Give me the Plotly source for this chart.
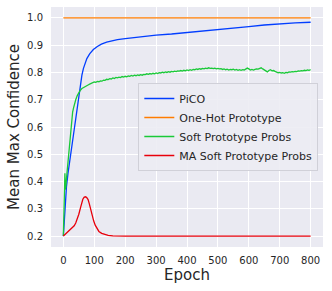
import plotly.graph_objects as go

# ---------------- data ----------------
pico_epoch = [0, 3, 6, 10, 15, 20, 25, 30, 35, 40, 45, 50, 55, 60, 65, 70, 76, 85, 97,
              110, 123, 140, 154, 175, 200, 250, 300, 350, 400, 450, 500, 550, 600,
              650, 700, 750, 800]
pico_vals = [0.200, 0.260, 0.320, 0.380, 0.430, 0.475, 0.515, 0.550, 0.590, 0.630,
             0.675, 0.715, 0.755, 0.790, 0.815, 0.834, 0.851, 0.868, 0.884,
             0.895, 0.904, 0.911, 0.915, 0.920, 0.924, 0.931, 0.937, 0.941, 0.946,
             0.951, 0.956, 0.962, 0.968, 0.974, 0.979, 0.982, 0.984]

onehot_epoch = [0, 800]
onehot_vals = [1.0, 1.0]

soft_epoch_early = [0, 2, 4, 5, 6, 8, 10, 13, 16, 18, 20, 22, 24, 26, 28, 30, 33, 36,
                    40, 45, 50, 55, 60, 65, 70, 75, 80, 85, 90]
soft_vals_early = [0.200, 0.270, 0.360, 0.430, 0.370, 0.380, 0.410, 0.450, 0.490,
                   0.510, 0.540, 0.560, 0.600, 0.630, 0.645, 0.655, 0.670, 0.685,
                   0.700, 0.715, 0.728, 0.735, 0.741, 0.745, 0.748, 0.751, 0.754,
                   0.757, 0.760]
soft_epoch_late = list(range(95, 801, 5))
soft_vals_late = [
    0.762, 0.765, 0.764, 0.767, 0.766, 0.769, 0.768, 0.772, 0.771, 0.775,
    0.774, 0.777, 0.776, 0.780, 0.778, 0.782, 0.780, 0.783, 0.781, 0.785,
    0.783, 0.786, 0.784, 0.787, 0.786, 0.789, 0.787, 0.790, 0.788, 0.791,
    0.789, 0.792, 0.790, 0.793, 0.792, 0.795, 0.793, 0.796, 0.794, 0.797,
    0.795, 0.798, 0.796, 0.799, 0.798, 0.801, 0.799, 0.802, 0.800, 0.803,
    0.801, 0.804, 0.802, 0.805, 0.803, 0.806, 0.805, 0.807, 0.805, 0.808,
    0.806, 0.809, 0.807, 0.810, 0.808, 0.811, 0.810, 0.813, 0.811, 0.814,
    0.812, 0.815, 0.813, 0.816, 0.814, 0.817, 0.815, 0.816, 0.814, 0.816,
    0.813, 0.815, 0.813, 0.814, 0.811, 0.813, 0.810, 0.812, 0.809, 0.811,
    0.810, 0.812, 0.809, 0.811, 0.808, 0.810, 0.808, 0.810, 0.809, 0.812,
    0.816, 0.813, 0.809, 0.811, 0.809, 0.811, 0.813, 0.812, 0.815, 0.817,
    0.813, 0.809, 0.803, 0.802, 0.807, 0.810, 0.806, 0.807, 0.804, 0.801,
    0.799, 0.800, 0.798, 0.799, 0.797, 0.800, 0.799, 0.802, 0.801, 0.803,
    0.802, 0.804, 0.803, 0.806, 0.805, 0.807, 0.806, 0.808, 0.807, 0.809,
    0.808, 0.810]
soft_epoch = soft_epoch_early + soft_epoch_late
soft_vals = soft_vals_early + soft_vals_late

ma_epoch = [0, 10, 19, 28, 35, 40, 45, 50, 56, 60, 63, 67, 71, 75, 80, 84, 87, 92,
            98, 103, 108, 115, 124, 135, 145, 160, 175, 200, 800]
ma_vals = [0.200, 0.210, 0.219, 0.228, 0.238, 0.248, 0.262, 0.280, 0.306, 0.325,
           0.335, 0.342, 0.344, 0.342, 0.334, 0.318, 0.302, 0.280, 0.256, 0.240,
           0.228, 0.217, 0.210, 0.205, 0.2025, 0.2005, 0.200, 0.200, 0.200]

series_names = ["PiCO", "One-Hot Prototype", "Soft Prototype Probs", "MA Soft Prototype Probs"]
series_colors = ["#023eff", "#ff7c00", "#1ac938", "#e8000b"]

x_ticks = [0, 100, 200, 300, 400, 500, 600, 700, 800]
y_ticks = [0.2, 0.3, 0.4, 0.5, 0.6, 0.7, 0.8, 0.9, 1.0]

# ---------------- figure ----------------
fig = go.Figure()
for name, color, xs, ys in zip(series_names, series_colors,
                               [pico_epoch, onehot_epoch, soft_epoch, ma_epoch],
                               [pico_vals, onehot_vals, soft_vals, ma_vals]):
    fig.add_trace(go.Scatter(x=xs, y=ys, mode="lines", name=name,
                             line=dict(color=color, width=1.3)))

font_family = "DejaVu Sans"
fig.update_layout(
    width=332, height=291,
    margin=dict(l=51, r=9, t=7, b=44),
    paper_bgcolor="white",
    plot_bgcolor="#EAEAF2",
    font=dict(family=font_family, color="#262626", size=10),
    showlegend=True,
    legend=dict(
        x=0.321, y=0.50, xanchor="left", yanchor="middle",
        bgcolor="rgba(236,236,243,0.9)", bordercolor="#d0d0d8", borderwidth=1,
        font=dict(family=font_family, size=11, color="#262626"),
        itemwidth=30, tracegroupgap=0,
    ),
)
fig.update_xaxes(
    range=[-40, 840], tickvals=x_ticks, showgrid=True, gridcolor="white", gridwidth=1,
    zeroline=False, showline=False, ticks="outside", ticklen=4, automargin=False,
    tickcolor="rgba(0,0,0,0)", tickfont=dict(size=10),
    title=dict(text="Epoch", font=dict(size=15), standoff=2),
)
fig.update_yaxes(
    range=[0.16, 1.04], tickvals=y_ticks, tickformat=".1f", showgrid=True,
    gridcolor="white", gridwidth=1, zeroline=False, showline=False, automargin=False,
    ticks="outside", ticklen=5, tickcolor="rgba(0,0,0,0)", tickfont=dict(size=10),
    title=dict(text="Mean Max Confidence", font=dict(size=15), standoff=3),
)

fig.write_html("out.html", config={"displayModeBar": False},
               post_script="document.body.style.margin='0';")
